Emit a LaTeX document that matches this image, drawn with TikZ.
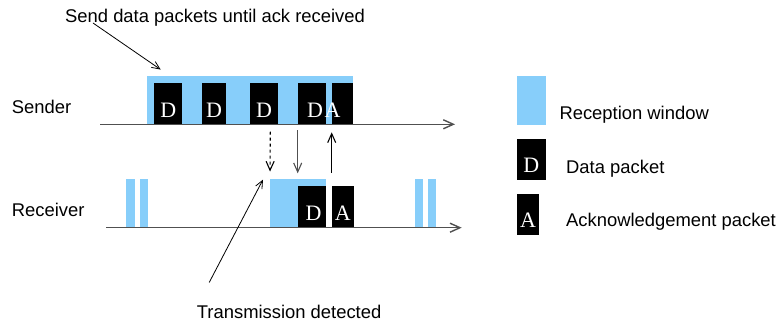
\documentclass[tikz,border=0pt]{standalone}
\usepackage{fontspec}
\setmainfont{Liberation Sans}
\newfontfamily\pktfont{Liberation Serif}
\usepackage{tikz}
\usetikzlibrary{arrows.meta, positioning}

\definecolor{winblue}{RGB}{135,206,250}
\definecolor{axisgray}{RGB}{80,80,80}

\tikzset{
  winbox/.style={fill=winblue, draw=none, inner sep=0pt, anchor=south west},
  packet/.style={fill=black, text=white, inner xsep=0pt, inner ysep=0pt, text height=34pt, text depth=7pt, anchor=south west, font=\pktfont\fontsize{22}{22}\selectfont},
  txt/.style={font=\fontsize{18.4}{22}\selectfont, inner sep=0pt, anchor=base west},
  timeline/.style={draw=axisgray, line width=1.4pt, -{Straight Barb[length=10pt, width=9pt]}},
  msg/.style={line width=1.1pt, -{Straight Barb[length=9pt, width=8pt]}},
  note/.style={line width=0.8pt, -{Straight Barb[length=8pt, width=7pt]}}
}

\begin{document}
\begin{tikzpicture}[x=1pt, y=-1pt]
    \useasboundingbox (0,0) rectangle (784,323);

    % Sender
    \node[txt] (sender) at (11.7,113.3) {Sender};
    \node[winbox, minimum width=206.3pt, minimum height=48.3pt] (sendwin) at (146.7,124.3) {};
    \node[packet, minimum width=28pt] (sd1) at (154,124.3) {D};
    \node[packet, minimum width=24.3pt] (sd2) at (201.7,124.3) {D};
    \node[packet, minimum width=27.7pt] (sd3) at (250,124.3) {D};
    \node[packet, minimum width=28.3pt] (sd4) at (297.7,124.3) {\kern6pt D};
    \node[packet, minimum width=21.3pt] (sa) at (331.7,124.3) {\hbox to 0pt{\hss A\hss}\kern20pt};
    \coordinate (s0) at (100,124.3);
    \coordinate (s1) at (455,124.3);
    \draw[timeline] (s0) -- (s1);

    % Receiver
    \node[txt] (receiver) at (11.7,216.7) {Receiver};
    \node[winbox, minimum width=8.3pt, minimum height=48.7pt] (rb1) at (126,227.7) {};
    \node[winbox, minimum width=8pt, minimum height=48.7pt] (rb2) at (140,227.7) {};
    \node[winbox, minimum width=56pt, minimum height=48.7pt] (recvwin) at (270,227.7) {};
    \node[winbox, minimum width=8pt, minimum height=48.7pt] (rb3) at (414.3,227.7) {};
    \node[winbox, minimum width=7.3pt, minimum height=48.7pt] (rb4) at (428,227.7) {};
    \node[packet, minimum width=28.3pt] (rd) at (297.7,227.7) {\kern3pt D};
    \node[packet, minimum width=21.6pt] (ra) at (331.7,227.7) {A};
    \coordinate (r0) at (106,227.7);
    \coordinate (r1) at (461.7,227.7);
    \draw[timeline] (r0) -- (r1);

    % Messages between the two
    \coordinate (sense) at (270.3,131.7);
    \draw[msg, dashed, shorten >=7pt] (sense) -- (recvwin.north west);
    \draw[msg, axisgray, shorten <=6pt, shorten >=13pt] (sd4.south west) -- (rd.north west);
    \draw[msg, shorten <=13.5pt, shorten >=8pt] (ra.north west) -- (sa.south west);

    % Annotations
    \node[txt] (sendnote) at (65,23) {Send data packets until ack received};
    \draw[note] ([xshift=28pt]sendnote.base west) -- ([shift={(14pt,6pt)}]sendwin.north west);
    \node[txt] (detectnote) at (196.7,318) {Transmission detected};
    \draw[note] ([shift={(12.5pt,22pt)}]detectnote.north west) -- ([shift={(-7pt,-1pt)}]recvwin.north west);

    % Legend
    \node[winbox, minimum width=29pt, minimum height=49pt] (legwin) at (516.7,125) {};
    \node[txt] (legwintxt) at (559.3,119.3) {Reception window};
    \node[packet, minimum width=29pt] (legd) at (516.7,180) {D};
    \node[txt] (legdtxt) at (566,173.3) {Data packet};
    \node[packet, minimum width=22.3pt] (lega) at (516.7,235) {A};
    \node[txt] (legatxt) at (566,226.7) {Acknowledgement packet};
\end{tikzpicture}
\end{document}
